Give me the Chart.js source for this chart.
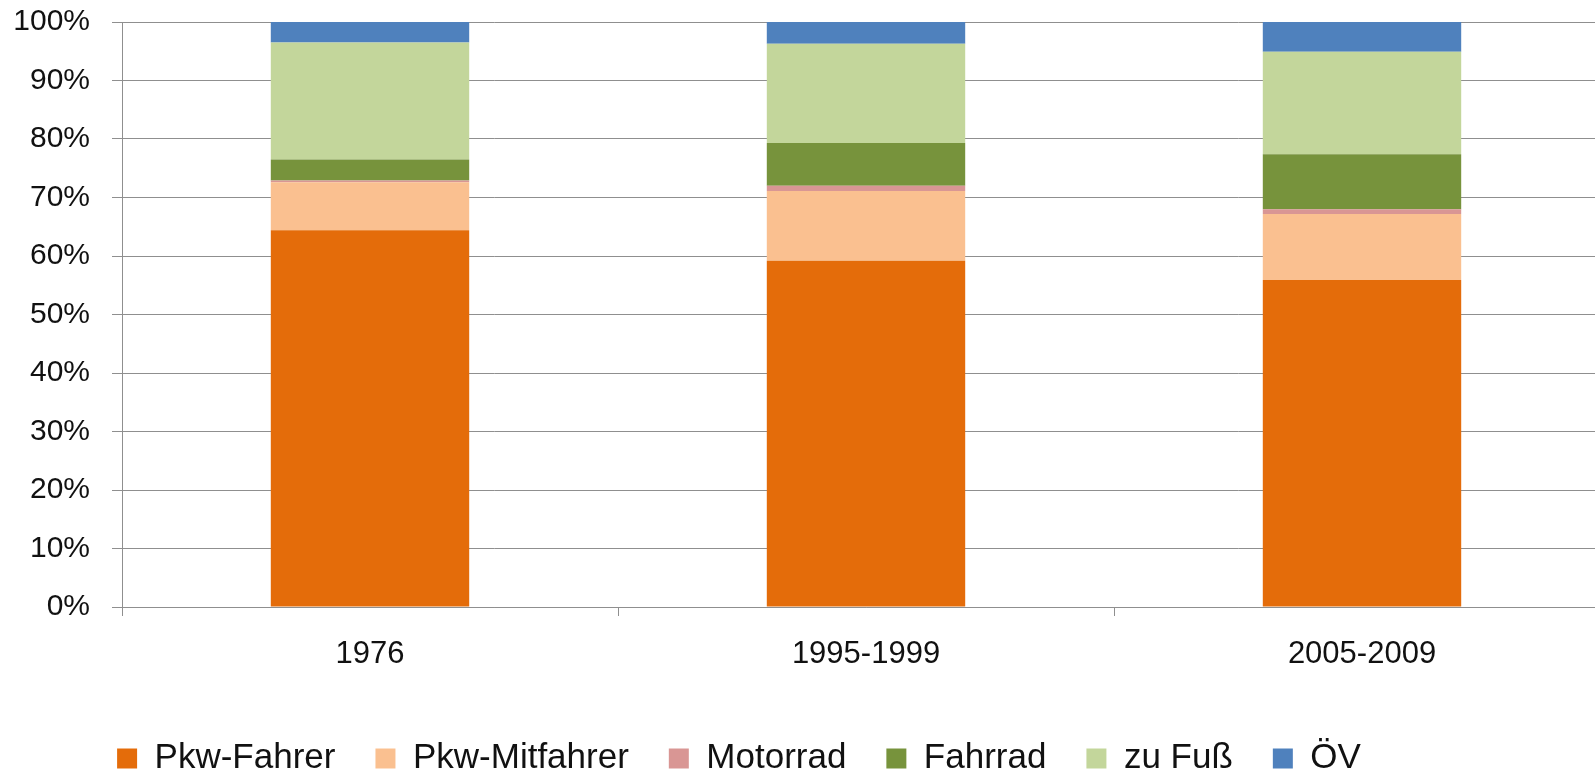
<!DOCTYPE html>
<html>
<head>
<meta charset="utf-8">
<script src="https://cdn.jsdelivr.net/npm/chart.js@4.4.1/dist/chart.umd.min.js"></script>
<style>
  html, body { margin: 0; padding: 0; background: #fff; overflow: hidden; }
  #wrap { width: 1610px; height: 771px; }
</style>
</head>
<body>
<div id="wrap"><canvas id="modalSplit"></canvas></div>
<script>
// Modal split per period (share of trips, %)
const categories = ['1976', '1995-1999', '2005-2009'];
const pkwFahrer = [64.4, 59.2, 55.9];
const pkwMitfahrer = [8.2, 11.9, 11.3];
const motorrad = [0.3, 0.9, 0.8];
const fahrrad = [3.6, 7.3, 9.4];
const zuFuss = [20.0, 17.0, 17.5];
const oev = [3.5, 3.7, 5.1];

const seriesNames = ['Pkw-Fahrer', 'Pkw-Mitfahrer', 'Motorrad', 'Fahrrad', 'zu Fuß', 'ÖV'];
const seriesColors = ['#E46C0A', '#FAC090', '#D99694', '#77933C', '#C3D69B', '#4F81BD'];
const seriesValues = [pkwFahrer, pkwMitfahrer, motorrad, fahrrad, zuFuss, oev];

const fontFamily = "'Liberation Sans', Arial, sans-serif";
const gridColor = '#8f8f8f';

// move the legend a bit so it sits where the original has it
const legendShift = {
  id: 'legendShift',
  afterLayout(chart, args, opts) {
    const lg = chart.legend;
    if (!lg) return;
    lg.left += opts.dx;
    lg.right += opts.dx;
    lg.top += opts.dy;
    lg.bottom += opts.dy;
  }
};

const datasets = seriesNames.map((name, i) => ({
  label: name,
  data: seriesValues[i],
  backgroundColor: seriesColors[i],
  borderWidth: 0,
  categoryPercentage: 0.4,
  barPercentage: 1.0
}));

new Chart(document.getElementById('modalSplit').getContext('2d'), {
  type: 'bar',
  data: { labels: categories, datasets: datasets },
  plugins: [legendShift],
  options: {
    responsive: true,
    maintainAspectRatio: false,
    animation: false,
    layout: { padding: { top: 22, left: 0, right: 0, bottom: 0 } },
    scales: {
      x: {
        stacked: true,
        grid: {
          drawOnChartArea: false,
          drawTicks: true,
          tickLength: 9,
          color: gridColor
        },
        border: { color: gridColor, width: 1 },
        ticks: {
          color: '#111',
          padding: 20,
          font: { family: fontFamily, size: 31 }
        },
        afterFit: function(scale) { scale.height = 79; }
      },
      y: {
        stacked: true,
        min: 0,
        max: 100,
        grid: {
          color: gridColor,
          tickLength: 10
        },
        border: { color: gridColor, width: 1 },
        ticks: {
          stepSize: 10,
          color: '#111',
          padding: 22,
          font: { family: fontFamily, size: 30 },
          callback: function(value) { return value + '%'; }
        },
        afterFit: function(scale) {
          scale.width = 122;
          scale.paddingTop = 0;
          scale.paddingBottom = 0;
        }
      }
    },
    plugins: {
      legendShift: { dx: -66, dy: 15 },
      legend: {
        position: 'bottom',
        labels: {
          boxWidth: 20,
          boxHeight: 20,
          padding: 40,
          color: '#111',
          font: { family: fontFamily, size: 35 }
        }
      },
      tooltip: { enabled: false }
    }
  }
});
</script>
</body>
</html>
